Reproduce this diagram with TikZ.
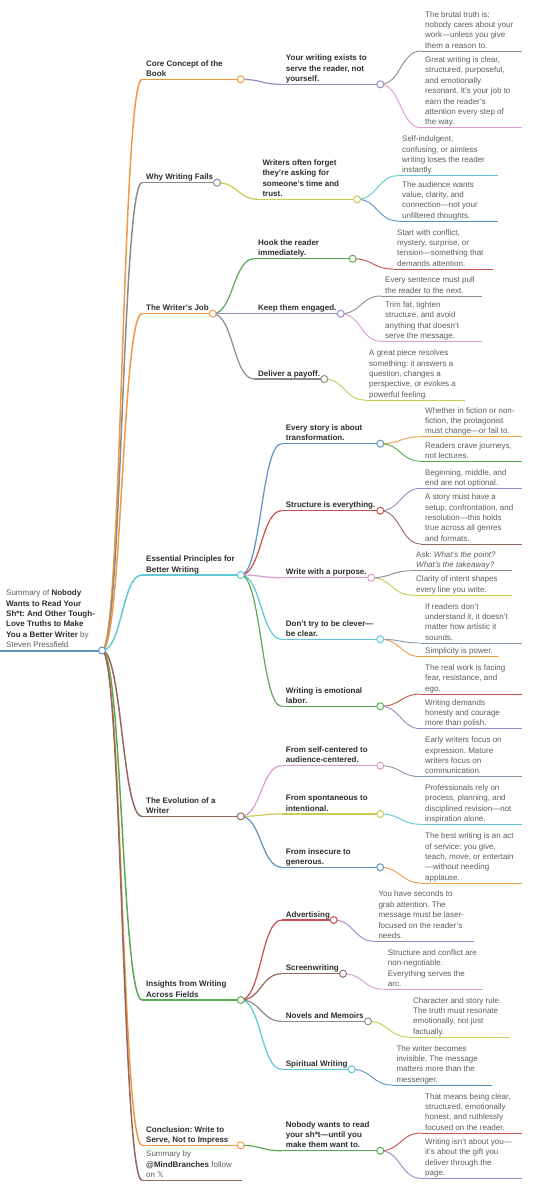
\documentclass[tikz,border=0pt]{standalone}
\usepackage{fontspec}
\setmainfont{Liberation Sans}
\newfontfamily\xsymf{DejaVu Sans}
\usetikzlibrary{calc}
\pgfdeclarelayer{bg}
\pgfsetlayers{bg,main}
\frenchspacing
\definecolor{mmblue}{HTML}{5B93C4}
\definecolor{mmorange}{HTML}{F09A48}
\definecolor{mmgreen}{HTML}{5AAA55}
\definecolor{mmred}{HTML}{C8504C}
\definecolor{mmpurple}{HTML}{9B86C6}
\definecolor{mmbrown}{HTML}{95675E}
\definecolor{mmpink}{HTML}{DC98D4}
\definecolor{mmgray}{HTML}{8C8C8C}
\definecolor{mmolive}{HTML}{C9CB52}
\definecolor{mmcyan}{HTML}{5EC8D6}
\definecolor{mmslate}{HTML}{8497A8}
\definecolor{txtdark}{HTML}{2E2E2E}
\definecolor{txtgray}{HTML}{5E5E5E}
\tikzset{
  txtbase/.style={inner xsep=0pt, inner ysep=2.6pt, align=left, text depth=0pt, anchor=south west},
  lvR/.style={txtbase, text=txtgray, font=\fontsize{8}{10.4}\selectfont},
  lvA/.style={txtbase, text=txtdark, font=\fontsize{8}{10.4}\selectfont\bfseries},
  lvB/.style={txtbase, text=txtdark, font=\fontsize{8}{10.4}\selectfont\bfseries},
  lvC/.style={txtbase, text=txtgray, font=\fontsize{8}{10.4}\selectfont},
  lvS/.style={txtbase, text=txtgray, font=\fontsize{8}{10.4}\selectfont},
  lvRln/.style={line width=2pt},
  lvAln/.style={line width=1.5pt},
  lvSln/.style={line width=1.5pt},
  lvBln/.style={line width=1.2pt},
  lvCln/.style={line width=0.9pt},
  dotc/.style={circle, fill=white, inner sep=0pt, minimum size=7pt, line width=1pt},
}
\newcommand\mmn[7]{%
  \coordinate (#1-l) at ({#2-4},#3);
  \coordinate (#1-r) at (#4,#3);
  \node[#6] (#1) at (#2,#3) {#7};
  \begin{pgfonlayer}{bg}\draw[#6ln,draw=#5] (#1-l) -- (#1-r);\end{pgfonlayer}}
\newcommand\mmc[2]{\node[dotc,draw=#2] (#1-c) at (#1-r) {};}
\newcommand\mml[4]{\begin{pgfonlayer}{bg}\draw[#4,draw=#3] let \p1=(#1-r), \p2=(#2-l) in
  (#1-r) .. controls ({(\x1+\x2)/2},\y1) and ({(\x1+\x2)/2},\y2) .. (#2-l);\end{pgfonlayer}}
\begin{document}
\begin{tikzpicture}[x=1pt,y=-1pt]
\begin{pgfonlayer}{bg}\fill[white] (0,0) rectangle (543,1200);\end{pgfonlayer}
\useasboundingbox (0,0) rectangle (543,1200);
% root
\coordinate (R-l) at (0,650.5);
\coordinate (R-r) at (102,650.5);
\node[lvR] (R) at (6,650.5) {Summary of {\color{txtdark}\bfseries Nobody}\\{\color{txtdark}\bfseries Wants to Read Your}\\{\color{txtdark}\bfseries Sh*t: And Other Tough-}\\{\color{txtdark}\bfseries Love Truths to Make}\\{\color{txtdark}\bfseries You a Better Writer} by\\Steven Pressfield};
\begin{pgfonlayer}{bg}\draw[lvRln,draw=mmblue] (R-l) -- (R-r);\end{pgfonlayer}
% level 1
\mmn{A}{146}{79.3}{240.7}{mmorange}{lvA}{Core Concept of the\\Book}
\mmn{B}{146}{182.7}{217}{mmgray}{lvA}{Why Writing Fails}
\mmn{C}{146}{313.7}{212.7}{mmorange}{lvA}{The Writer’s Job}
\mmn{D}{146}{575}{240.7}{mmcyan}{lvA}{Essential Principles for\\Better Writing}
\mmn{E}{146}{816.3}{240.7}{mmbrown}{lvA}{The Evolution of a\\Writer}
\mmn{F}{146}{1000}{240.7}{mmgreen}{lvA}{Insights from Writing\\Across Fields}
\mmn{G}{146}{1145.3}{240.7}{mmorange}{lvA}{Conclusion: Write to\\Serve, Not to Impress}
\mmn{H}{146}{1180.3}{241.7}{mmbrown}{lvS}{Summary by\\{\color{txtdark}\bfseries @MindBranches} follow\\on {\xsymf 𝕏}}
\mml{R}{A}{mmorange}{lvAln}
\mml{R}{B}{mmgray}{lvAln}
\mml{R}{C}{mmorange}{lvAln}
\mml{R}{D}{mmcyan}{lvAln}
\mml{R}{E}{mmbrown}{lvAln}
\mml{R}{F}{mmgreen}{lvAln}
\mml{R}{G}{mmorange}{lvAln}
\mml{R}{H}{mmbrown}{lvAln}
% level 2
\mmn{A1}{285.7}{84.3}{380.3}{mmpurple}{lvB}{Your writing exists to\\serve the reader, not\\yourself.}
\mmn{B1}{262.3}{199.3}{357}{mmolive}{lvB}{Writers often forget\\they’re asking for\\someone’s time and\\trust.}
\mmn{C1}{258}{258.7}{352.7}{mmgreen}{lvB}{Hook the reader\\immediately.}
\mmn{C2}{258}{313.7}{340.7}{mmpurple}{lvB}{Keep them engaged.}
\mmn{C3}{258}{379}{324.3}{mmgray}{lvB}{Deliver a payoff.}
\mmn{D1}{285.7}{443.7}{380.3}{mmblue}{lvB}{Every story is about\\transformation.}
\mmn{D2}{285.7}{510.7}{380.3}{mmred}{lvB}{Structure is everything.}
\mmn{D3}{285.7}{577.7}{371.3}{mmpink}{lvB}{Write with a purpose.}
\mmn{D4}{285.7}{639.3}{380.3}{mmcyan}{lvB}{Don’t try to be clever—\\be clear.}
\mmn{D5}{285.7}{706.3}{380.3}{mmgreen}{lvB}{Writing is emotional\\labor.}
\mmn{E1}{285.7}{765.7}{380.3}{mmpink}{lvB}{From self-centered to\\audience-centered.}
\mmn{E2}{285.7}{814}{380.3}{mmolive}{lvB}{From spontaneous to\\intentional.}
\mmn{E3}{285.7}{867.3}{380.3}{mmblue}{lvB}{From insecure to\\generous.}
\mmn{F1}{285.7}{920}{333.7}{mmred}{lvB}{Advertising}
\mmn{F2}{285.7}{973.7}{343}{mmbrown}{lvB}{Screenwriting}
\mmn{F3}{285.7}{1021.3}{368}{mmgray}{lvB}{Novels and Memoirs}
\mmn{F4}{285.7}{1069.3}{351.7}{mmcyan}{lvB}{Spiritual Writing}
\mmn{G1}{285.7}{1150.7}{380.3}{mmgreen}{lvB}{Nobody wants to read\\your sh*t—until you\\make them want to.}
\mml{A}{A1}{mmpurple}{lvBln}
\mml{B}{B1}{mmolive}{lvBln}
\mml{C}{C1}{mmgreen}{lvBln}
\mml{C}{C2}{mmpurple}{lvBln}
\mml{C}{C3}{mmgray}{lvBln}
\mml{D}{D1}{mmblue}{lvBln}
\mml{D}{D2}{mmred}{lvBln}
\mml{D}{D3}{mmpink}{lvBln}
\mml{D}{D4}{mmcyan}{lvBln}
\mml{D}{D5}{mmgreen}{lvBln}
\mml{E}{E1}{mmpink}{lvBln}
\mml{E}{E2}{mmolive}{lvBln}
\mml{E}{E3}{mmblue}{lvBln}
\mml{F}{F1}{mmred}{lvBln}
\mml{F}{F2}{mmbrown}{lvBln}
\mml{F}{F3}{mmgray}{lvBln}
\mml{F}{F4}{mmcyan}{lvBln}
\mml{G}{G1}{mmgreen}{lvBln}
% level 3
\mmn{A1a}{425}{51}{522}{mmgray}{lvC}{The brutal truth is:\\nobody cares about your\\work—unless you give\\them a reason to.}
\mmn{A1b}{425}{127.7}{522}{mmpink}{lvC}{Great writing is clear,\\structured, purposeful,\\and emotionally\\resonant. It’s your job to\\earn the reader’s\\attention every step of\\the way.}
\mmn{B1a}{402}{175.7}{497.7}{mmcyan}{lvC}{Self-indulgent,\\confusing, or aimless\\writing loses the reader\\instantly.}
\mmn{B1b}{402}{221}{497.7}{mmblue}{lvC}{The audience wants\\value, clarity, and\\connection—not your\\unfiltered thoughts.}
\mmn{C1a}{397}{269}{492.7}{mmred}{lvC}{Start with conflict,\\mystery, surprise, or\\tension—something that\\demands attention.}
\mmn{C2a}{385}{296}{481.7}{mmgray}{lvC}{Every sentence must pull\\the reader to the next.}
\mmn{C2b}{385}{341.3}{481.7}{mmpink}{lvC}{Trim fat, tighten\\structure, and avoid\\anything that doesn’t\\serve the message.}
\mmn{C3a}{369}{400}{465}{mmolive}{lvC}{A great piece resolves\\something: it answers a\\question, changes a\\perspective, or evokes a\\powerful feeling.}
\mmn{D1a}{425}{436.7}{522}{mmorange}{lvC}{Whether in fiction or non-\\fiction, the protagonist\\must change—or fail to.}
\mmn{D1b}{425}{461.3}{522}{mmgreen}{lvC}{Readers crave journeys,\\not lectures.}
\mmn{D2a}{425}{488.3}{522}{mmpurple}{lvC}{Beginning, middle, and\\end are not optional.}
\mmn{D2b}{425}{544}{522}{mmbrown}{lvC}{A story must have a\\setup, confrontation, and\\resolution—this holds\\true across all genres\\and formats.}
\mmn{D3a}{416}{570.7}{511.7}{mmgray}{lvC}{Ask: \textit{What’s the point?}\\\textit{What’s the takeaway?}}
\mmn{D3b}{416}{595}{511.7}{mmolive}{lvC}{Clarity of intent shapes\\every line you write.}
\mmn{D4a}{425}{643}{522}{mmslate}{lvC}{If readers don’t\\understand it, it doesn’t\\matter how artistic it\\sounds.}
\mmn{D4b}{425}{656.7}{499}{mmorange}{lvC}{Simplicity is power.}
\mmn{D5a}{425}{694}{522}{mmred}{lvC}{The real work is facing\\fear, resistance, and\\ego.}
\mmn{D5b}{425}{728.7}{522}{mmpurple}{lvC}{Writing demands\\honesty and courage\\more than polish.}
\mmn{E1a}{425}{776.7}{522}{mmslate}{lvC}{Early writers focus on\\expression. Mature\\writers focus on\\communication.}
\mmn{E2a}{425}{824.3}{522}{mmcyan}{lvC}{Professionals rely on\\process, planning, and\\disciplined revision—not\\inspiration alone.}
\mmn{E3a}{425}{883}{522}{mmorange}{lvC}{The best writing is an act\\of service: you give,\\teach, move, or entertain\\—without needing\\applause.}
\mmn{F1a}{378.3}{941.3}{474.3}{mmpurple}{lvC}{You have seconds to\\grab attention. The\\message must be laser-\\focused on the reader’s\\needs.}
\mmn{F2a}{387.7}{989.3}{483}{mmpink}{lvC}{Structure and conflict are\\non-negotiable.\\Everything serves the\\arc.}
\mmn{F3a}{413}{1037}{509}{mmolive}{lvC}{Character and story rule.\\The truth must resonate\\emotionally, not just\\factually.}
\mmn{F4a}{396.3}{1085}{492.3}{mmblue}{lvC}{The writer becomes\\invisible. The message\\matters more than the\\messenger.}
\mmn{G1a}{425}{1133}{522}{mmred}{lvC}{That means being clear,\\structured, emotionally\\honest, and ruthlessly\\focused on the reader.}
\mmn{G1b}{425}{1178.3}{522}{mmpurple}{lvC}{Writing isn’t about you—\\it’s about the gift you\\deliver through the\\page.}
\mml{A1}{A1a}{mmgray}{lvCln}
\mml{A1}{A1b}{mmpink}{lvCln}
\mml{B1}{B1a}{mmcyan}{lvCln}
\mml{B1}{B1b}{mmblue}{lvCln}
\mml{C1}{C1a}{mmred}{lvCln}
\mml{C2}{C2a}{mmgray}{lvCln}
\mml{C2}{C2b}{mmpink}{lvCln}
\mml{C3}{C3a}{mmolive}{lvCln}
\mml{D1}{D1a}{mmorange}{lvCln}
\mml{D1}{D1b}{mmgreen}{lvCln}
\mml{D2}{D2a}{mmpurple}{lvCln}
\mml{D2}{D2b}{mmbrown}{lvCln}
\mml{D3}{D3a}{mmgray}{lvCln}
\mml{D3}{D3b}{mmolive}{lvCln}
\mml{D4}{D4a}{mmslate}{lvCln}
\mml{D4}{D4b}{mmorange}{lvCln}
\mml{D5}{D5a}{mmred}{lvCln}
\mml{D5}{D5b}{mmpurple}{lvCln}
\mml{E1}{E1a}{mmslate}{lvCln}
\mml{E2}{E2a}{mmcyan}{lvCln}
\mml{E3}{E3a}{mmorange}{lvCln}
\mml{F1}{F1a}{mmpurple}{lvCln}
\mml{F2}{F2a}{mmpink}{lvCln}
\mml{F3}{F3a}{mmolive}{lvCln}
\mml{F4}{F4a}{mmblue}{lvCln}
\mml{G1}{G1a}{mmred}{lvCln}
\mml{G1}{G1b}{mmpurple}{lvCln}
% circles
\mmc{R}{mmblue}
\mmc{A}{mmorange}\mmc{B}{mmgray}\mmc{C}{mmorange}\mmc{D}{mmcyan}
\mmc{E}{mmbrown}\mmc{F}{mmgreen}\mmc{G}{mmorange}
\mmc{A1}{mmpurple}\mmc{B1}{mmolive}
\mmc{C1}{mmgreen}\mmc{C2}{mmpurple}\mmc{C3}{mmgray}
\mmc{D1}{mmblue}\mmc{D2}{mmred}\mmc{D3}{mmpink}\mmc{D4}{mmcyan}\mmc{D5}{mmgreen}
\mmc{E1}{mmpink}\mmc{E2}{mmolive}\mmc{E3}{mmblue}
\mmc{F1}{mmred}\mmc{F2}{mmbrown}\mmc{F3}{mmgray}\mmc{F4}{mmcyan}
\mmc{G1}{mmgreen}
\end{tikzpicture}
\end{document}
